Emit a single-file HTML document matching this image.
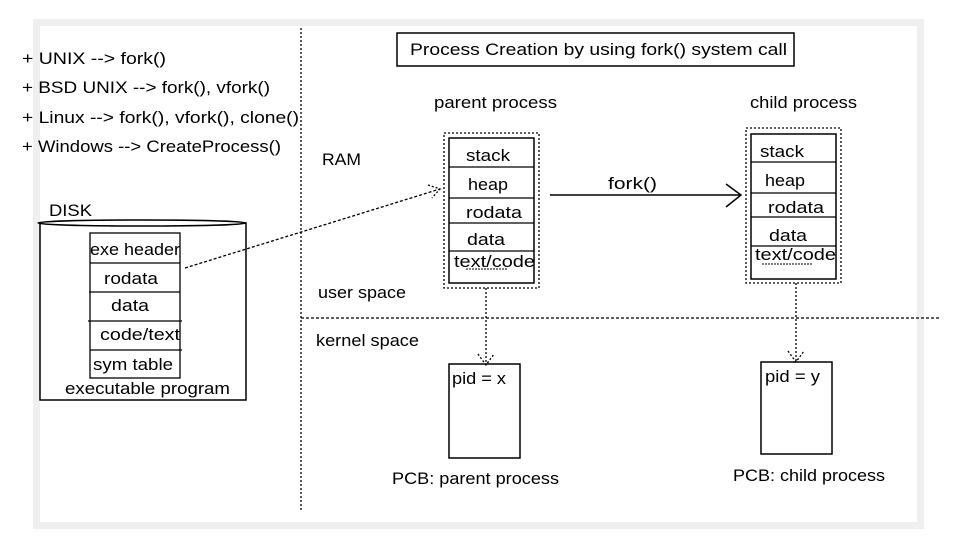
<!DOCTYPE html>
<html><head><meta charset="utf-8"><style>
html,body{margin:0;padding:0;background:#fff;width:960px;height:541px;overflow:hidden}
svg text{font-family:"Liberation Sans",sans-serif;font-size:17px;fill:#000}
</style></head><body>
<svg width="960" height="541" viewBox="0 0 960 541" xmlns="http://www.w3.org/2000/svg">
<rect x="36.5" y="22.5" width="884" height="503" fill="#fff" stroke="#efefef" stroke-width="7"/>
<g stroke="#000" fill="none" stroke-width="1.3">
<line x1="301" y1="28" x2="301" y2="510" stroke-dasharray="2,2"/>
<line x1="301" y1="318" x2="940" y2="318" stroke-dasharray="3,2"/>
<rect x="397" y="33" width="397" height="33" stroke-width="1.5"/>
<rect x="40" y="223" width="206" height="177" stroke-width="1.5"/>
<ellipse cx="142" cy="223" rx="104" ry="3" fill="#fff" stroke-width="1.5"/>
<rect x="90" y="233" width="90" height="145"/>
<line x1="90" y1="263" x2="180" y2="263"/><line x1="89" y1="292" x2="180" y2="292"/>
<line x1="88" y1="321" x2="182" y2="321"/><line x1="90" y1="350" x2="182" y2="350"/>
<line x1="185" y1="268" x2="440" y2="189" stroke-dasharray="3,2"/>
<polyline points="428,185 440,189 432,198" stroke-dasharray="2,2"/>
<rect x="444" y="133" width="95" height="155" stroke-dasharray="2,2"/>
<rect x="449" y="138" width="85" height="145" stroke-width="1.5"/>
<line x1="449" y1="167" x2="534" y2="167"/><line x1="449" y1="198" x2="534" y2="198"/>
<line x1="449" y1="223" x2="534" y2="223"/><line x1="449" y1="251" x2="534" y2="251"/>
<line x1="466" y1="269" x2="508" y2="269" stroke-dasharray="2,1" stroke-width="1"/>
<rect x="746" y="128" width="95" height="155" stroke-dasharray="2,2"/>
<rect x="751" y="134" width="85" height="145" stroke-width="1.5"/>
<line x1="751" y1="162" x2="836" y2="162"/><line x1="751" y1="193" x2="836" y2="193"/>
<line x1="751" y1="217" x2="836" y2="217"/><line x1="751" y1="246" x2="836" y2="246"/>
<line x1="762" y1="264" x2="812" y2="264" stroke-dasharray="2,1" stroke-width="1"/>
<line x1="550" y1="195" x2="740" y2="195" stroke-width="1.5"/>
<polyline points="726,184 741,195 726,207" stroke-width="1.5"/>
<line x1="486" y1="288" x2="486" y2="365" stroke-dasharray="2,2"/>
<polyline points="478,354 486,365 494,354" stroke-dasharray="2,2"/>
<line x1="796" y1="283" x2="796" y2="362" stroke-dasharray="2,2"/>
<polyline points="788,351 796,362 804,351" stroke-dasharray="2,2"/>
<rect x="449" y="364" width="71" height="94" stroke-width="1.5"/>
<rect x="761" y="362" width="71" height="92" stroke-width="1.5"/>
</g>
<g style="" >
<text x="410" y="55" textLength="377" lengthAdjust="spacingAndGlyphs">Process Creation by using fork() system call</text>
<text x="22" y="64" textLength="144" lengthAdjust="spacingAndGlyphs">+ UNIX --&gt; fork()</text>
<text x="22" y="93" textLength="248" lengthAdjust="spacingAndGlyphs">+ BSD UNIX --&gt; fork(), vfork()</text>
<text x="22" y="123" textLength="277" lengthAdjust="spacingAndGlyphs">+ Linux --&gt; fork(), vfork(), clone()</text>
<text x="22" y="152" textLength="259" lengthAdjust="spacingAndGlyphs">+ Windows --&gt; CreateProcess()</text>
<text x="49" y="216" textLength="43" lengthAdjust="spacingAndGlyphs">DISK</text>
<text x="90" y="255" textLength="90" lengthAdjust="spacingAndGlyphs">exe header</text>
<text x="104" y="284" textLength="54" lengthAdjust="spacingAndGlyphs">rodata</text>
<text x="111" y="311" textLength="38" lengthAdjust="spacingAndGlyphs">data</text>
<text x="100" y="340" textLength="80" lengthAdjust="spacingAndGlyphs">code/text</text>
<text x="93" y="370" textLength="80" lengthAdjust="spacingAndGlyphs">sym table</text>
<text x="65" y="394" textLength="165" lengthAdjust="spacingAndGlyphs">executable program</text>
<text x="434" y="108" textLength="123" lengthAdjust="spacingAndGlyphs">parent process</text>
<text x="750" y="108" textLength="107" lengthAdjust="spacingAndGlyphs">child process</text>
<text x="322" y="165" textLength="39" lengthAdjust="spacingAndGlyphs">RAM</text>
<text x="466" y="161" textLength="44" lengthAdjust="spacingAndGlyphs">stack</text>
<text x="468" y="190" textLength="40" lengthAdjust="spacingAndGlyphs">heap</text>
<text x="466" y="218" textLength="56" lengthAdjust="spacingAndGlyphs">rodata</text>
<text x="467" y="245" textLength="38" lengthAdjust="spacingAndGlyphs">data</text>
<text x="454" y="267" textLength="81" lengthAdjust="spacingAndGlyphs">text/code</text>
<text x="760" y="157" textLength="44" lengthAdjust="spacingAndGlyphs">stack</text>
<text x="765" y="186" textLength="40" lengthAdjust="spacingAndGlyphs">heap</text>
<text x="768" y="213" textLength="56" lengthAdjust="spacingAndGlyphs">rodata</text>
<text x="769" y="241" textLength="38" lengthAdjust="spacingAndGlyphs">data</text>
<text x="755" y="260" textLength="81" lengthAdjust="spacingAndGlyphs">text/code</text>
<text x="608" y="189" textLength="49" lengthAdjust="spacingAndGlyphs">fork()</text>
<text x="318" y="298" textLength="88" lengthAdjust="spacingAndGlyphs">user space</text>
<text x="316" y="346" textLength="103" lengthAdjust="spacingAndGlyphs">kernel space</text>
<text x="452" y="384" textLength="54" lengthAdjust="spacingAndGlyphs">pid = x</text>
<text x="765" y="382" textLength="55" lengthAdjust="spacingAndGlyphs">pid = y</text>
<text x="392" y="484" textLength="167" lengthAdjust="spacingAndGlyphs">PCB: parent process</text>
<text x="733" y="481" textLength="152" lengthAdjust="spacingAndGlyphs">PCB: child process</text>
</g>
</svg>
</body></html>
